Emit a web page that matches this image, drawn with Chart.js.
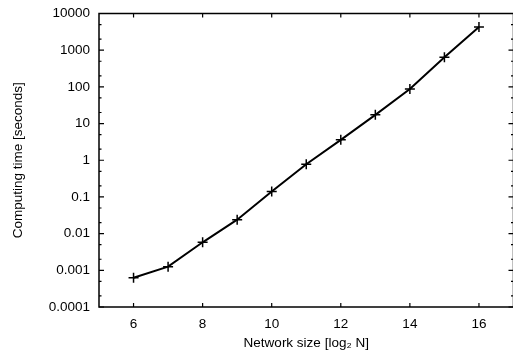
<!DOCTYPE html>
<html>
<head>
<meta charset="utf-8">
<script src="https://cdn.jsdelivr.net/npm/chart.js@4/dist/chart.umd.min.js"></script>
<style>
  html, body { margin: 0; padding: 0; background: #fff; overflow: hidden; }
  #wrap { width: 513px; height: 352px; overflow: hidden; }
</style>
</head>
<body>
<div id="wrap"><canvas id="timeChart" width="520" height="352"></canvas></div>
<script>
// network size (log2 N) and computing time in seconds
const networkSize = [6, 7, 8, 9, 10, 11, 12, 13, 14, 15, 16];
const computingTime = [0.00063, 0.00126, 0.0058, 0.024, 0.14, 0.78, 3.6, 17.3, 87, 640, 4300];

const xTicks = [6, 8, 10, 12, 14, 16];
const yTicks = [0.0001, 0.001, 0.01, 0.1, 1, 10, 100, 1000, 10000];
const yTickLabels = ['0.0001', '0.001', '0.01', '0.1', '1', '10', '100', '1000', '10000'];
const yMinorSteps = [2, 5];

const FONT = 'Liberation Sans, Arial, Helvetica, sans-serif';

// frame round the plot plus gnuplot-like inward ticks on all four sides
const framePlugin = {
  id: 'frame',
  beforeDatasetsDraw(chart) {
    const { ctx, chartArea: a, scales } = chart;
    const xs = scales.x, ys = scales.y;
    ctx.save();
    ctx.strokeStyle = '#000';
    ctx.lineWidth = 1.5;
    ctx.strokeRect(a.left, a.top, a.right - a.left, a.bottom - a.top);

    ctx.lineWidth = 1.2;
    ctx.beginPath();
    xTicks.forEach(v => {
      const px = xs.getPixelForValue(v);
      ctx.moveTo(px, a.bottom); ctx.lineTo(px, a.bottom - 4);
      ctx.moveTo(px, a.top); ctx.lineTo(px, a.top + 4);
    });
    yTicks.forEach((v, i) => {
      const py = ys.getPixelForValue(v);
      ctx.moveTo(a.left, py); ctx.lineTo(a.left + 5, py);
      ctx.moveTo(a.right, py); ctx.lineTo(a.right - 5, py);
      if (i < yTicks.length - 1) {
        yMinorSteps.forEach(m => {
          const pm = ys.getPixelForValue(v * m);
          ctx.moveTo(a.left, pm); ctx.lineTo(a.left + 2.5, pm);
          ctx.moveTo(a.right, pm); ctx.lineTo(a.right - 2.5, pm);
        });
      }
    });
    ctx.stroke();
    ctx.restore();
  }
};

const ctx = document.getElementById('timeChart').getContext('2d');
new Chart(ctx, {
  type: 'line',
  data: {
    datasets: [{
      data: networkSize.map((n, i) => ({ x: n, y: computingTime[i] })),
      borderColor: '#000',
      borderWidth: 2,
      pointStyle: 'cross',
      pointRadius: 5,
      pointBorderWidth: 1.5,
      pointBorderColor: '#000',
      tension: 0,
      fill: false
    }]
  },
  options: {
    responsive: false,
    devicePixelRatio: 1,
    animation: false,
    layout: { padding: { top: 13.5, right: 2, left: 0, bottom: 0 } },
    scales: {
      x: {
        type: 'linear',
        min: 5,
        max: 17,
        afterBuildTicks: axis => { axis.ticks = xTicks.map(v => ({ value: v })); },
        afterFit: axis => {
          axis.height = 45;
          axis.paddingLeft = 0;
          axis.paddingRight = 0;
        },
        grid: { display: false, drawTicks: false },
        border: { display: false },
        ticks: {
          padding: 9,
          color: '#000',
          font: { family: FONT, size: 13.5 },
          maxRotation: 0,
          autoSkip: false
        },
        title: {
          display: true,
          text: 'Network size [log₂ N]',
          color: '#000',
          font: { family: FONT, size: 13.5 },
          padding: { top: 0, bottom: 1 }
        }
      },
      y: {
        type: 'logarithmic',
        min: 0.0001,
        max: 10000,
        afterBuildTicks: axis => { axis.ticks = yTicks.map(v => ({ value: v })); },
        afterFit: axis => {
          axis.width = 99;
          axis.paddingTop = 0;
          axis.paddingBottom = 0;
        },
        grid: { display: false, drawTicks: false },
        border: { display: false },
        ticks: {
          padding: 9,
          color: '#000',
          font: { family: FONT, size: 13.5 },
          autoSkip: false,
          callback: v => {
            const i = yTicks.indexOf(v);
            return i >= 0 ? yTickLabels[i] : '';
          }
        },
        title: {
          display: true,
          text: 'Computing time [seconds]',
          color: '#000',
          font: { family: FONT, size: 13.5 },
          padding: { top: 10, bottom: 0 }
        }
      }
    },
    plugins: {
      legend: { display: false },
      tooltip: { enabled: false }
    }
  },
  plugins: [framePlugin]
});
</script>
</body>
</html>
